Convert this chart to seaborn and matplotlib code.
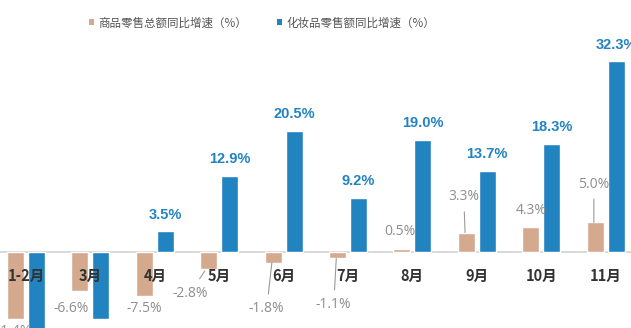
import matplotlib
matplotlib.use("Agg")
import matplotlib.pyplot as plt
from matplotlib.patches import Patch
import seaborn as sns
import pandas as pd

# ---- data ----
months = ["1-2月", "3月", "4月", "5月", "6月", "7月", "8月", "9月", "10月", "11月"]
series_names = ["商品零售总额同比增速（%）", "化妆品零售额同比增速（%）"]
total_retail = [-11.4, -6.6, -7.5, -2.8, -1.8, -1.1, 0.5, 3.3, 4.3, 5.0]
cosmetics = [-14.1, -11.3, 3.5, 12.9, 20.5, 9.2, 19.0, 13.7, 18.3, 32.3]

# label layout for the tan series: offsets from the bar end (data units)
tan_label_dx = [-0.09, -0.14, 0.0, -0.29, -0.10, -0.06, -0.03, -0.04, 0.0, -0.02]
tan_label_dy = [-2.0, -3.06, -2.0, -4.15, -7.86, -7.88, 2.89, 6.02, 2.65, 6.5]
tan_leader = [False, False, False, True, True, True, False, True, False, True]

TAN = "#D5A98D"
BLUE = "#2283C1"

sns.set_theme(style="white")
plt.rcParams["font.family"] = ["Noto Sans CJK SC", "DejaVu Sans"]

df = pd.DataFrame({
    "month": months * 2,
    "series": [series_names[0]] * len(months) + [series_names[1]] * len(months),
    "value": total_retail + cosmetics,
})

fig = plt.figure(figsize=(6.31, 3.28), dpi=100)
ax = fig.add_axes([0, 0, 1, 1])

ax.axhline(0, color="#d6d6d6", lw=1.3, zorder=0)

sns.barplot(data=df, x="month", y="value", hue="series", order=months,
            hue_order=series_names, palette=[TAN, BLUE], width=0.65, gap=0.19,
            ax=ax, legend=False, zorder=2, saturation=1)

ax.set_xlim(-0.404, 9.394)
ax.set_ylim(-12.88, 42.7)
ax.axis("off")

off = 0.1625

# month labels
for i, m in enumerate(months):
    ax.text(i, -4.07, m, ha="center", va="center", fontsize=10.5,
            fontweight="bold", color="#333333", zorder=6)

# tan labels
for i, v in enumerate(total_retail):
    bx = i - off
    tx = bx + tan_label_dx[i]
    ty = v + tan_label_dy[i]
    txt = f"{v:.1f}%"
    if tan_leader[i]:
        if i == 3:
            xy = (bx - 0.06, v - 0.4)
        else:
            xy = (bx - 0.02, v)
        ax.annotate(txt, xy=xy, xytext=(tx, ty), ha="center", va="center",
                    fontsize=10, color="#8e8e8e", family=["Open Sans", "DejaVu Sans"],
                    annotation_clip=False, zorder=6,
                    arrowprops=dict(arrowstyle="-", color="#9a9a9a", lw=0.8,
                                    shrinkA=3, shrinkB=0))
    else:
        ax.text(tx, ty, txt, ha="center", va="center", fontsize=10,
                color="#8e8e8e", family=["Open Sans", "DejaVu Sans"], zorder=6,
                clip_on=False)

# blue labels (positive values; negative ones fall outside the cropped frame)
for i, v in enumerate(cosmetics):
    if v > 0:
        ax.annotate(f"{v:.1f}%", xy=(i + off, v), xytext=(0, 7),
                    textcoords="offset points", ha="center", va="bottom",
                    fontsize=10.5, fontweight="bold", color=BLUE,
                    family=["Liberation Sans", "DejaVu Sans"],
                    annotation_clip=False, zorder=6)

handles = [Patch(facecolor=TAN, edgecolor="none"), Patch(facecolor=BLUE, edgecolor="none")]
fig.legend(handles, series_names, loc="center", bbox_to_anchor=(262 / 631, 1 - 23 / 328),
           ncol=2, frameon=False, handlelength=0.45, handleheight=0.45,
           handletextpad=0.35, columnspacing=2.6, fontsize=8.3, labelcolor="#555555")

fig.savefig("out.png", dpi=100)
